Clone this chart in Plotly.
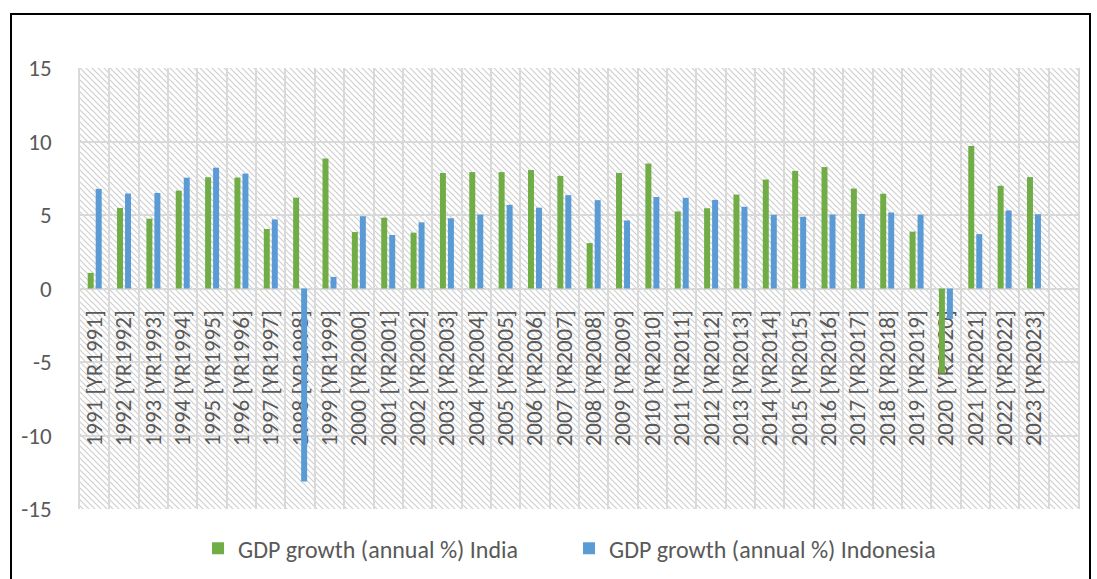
import base64
import plotly.graph_objects as go

# GDP growth (annual %), World Bank series codes shown as in the source sheet
years = list(range(1991, 2024))
categories = [f"{y} [YR{y}]" for y in years]

india = [1.06, 5.48, 4.75, 6.66, 7.57, 7.55, 4.05, 6.18, 8.85, 3.84,
         4.82, 3.80, 7.86, 7.92, 7.92, 8.06, 7.66, 3.09, 7.86, 8.50,
         5.24, 5.46, 6.39, 7.41, 8.00, 8.26, 6.80, 6.45, 3.87, -5.78,
         9.69, 6.99, 7.58]
indonesia = [6.78, 6.46, 6.50, 7.54, 8.22, 7.82, 4.70, -13.13, 0.79, 4.92,
             3.64, 4.50, 4.78, 5.03, 5.69, 5.50, 6.35, 6.01, 4.63, 6.22,
             6.17, 6.03, 5.56, 5.01, 4.88, 5.03, 5.07, 5.17, 5.02, -2.07,
             3.70, 5.31, 5.05]
series_names = ["GDP growth (annual %) India", "GDP growth (annual %) Indonesia"]

y_ticks = [-15, -10, -5, 0, 5, 10, 15]
y_tick_text = [str(v) for v in y_ticks]

GREEN = "#70AD47"
BLUE = "#5B9BD5"
TEXT = "#595959"
GRID = "#D9D9D9"
FONT = "Carlito, Calibri, Lato, sans-serif"

W, H = 1097, 579
M_L, M_R, M_T, M_B = 80, 19, 68, 70
PW, PH = W - M_L - M_R, H - M_T - M_B

# diagonal hatch backdrop for the plot area
s = 6
svg = (
    f'<svg xmlns="http://www.w3.org/2000/svg" width="{PW}" height="{PH}" '
    f'viewBox="0 0 {PW} {PH}" preserveAspectRatio="none">'
    f'<defs><pattern id="h" width="{s}" height="{s}" patternUnits="userSpaceOnUse">'
    f'<path d="M-1,-1 L{s+1},{s+1} M-1,{s-1} L1,{s+1} M{s-1},-1 L{s+1},1" '
    f'stroke="#cfcfcf" stroke-width="1.2"/></pattern></defs>'
    f'<rect width="{PW}" height="{PH}" fill="white"/>'
    f'<rect width="{PW}" height="{PH}" fill="url(#h)"/></svg>'
)
hatch_src = "data:image/svg+xml;base64," + base64.b64encode(svg.encode()).decode()

fig = go.Figure()
for vals, name, color in [(india, series_names[0], GREEN),
                          (indonesia, series_names[1], BLUE)]:
    fig.add_trace(go.Bar(x=categories, y=vals, name=name, showlegend=False,
                         marker=dict(color=color, line=dict(width=0))))
    # square swatch for the legend entry
    fig.add_trace(go.Scatter(x=[None], y=[None], mode="markers", name=name,
                             marker=dict(symbol="square", size=10, color=color,
                                         line=dict(width=0))))

fig.update_layout(
    width=W, height=H,
    margin=dict(l=M_L, r=M_R, t=M_T, b=M_B, autoexpand=False),
    paper_bgcolor="white",
    plot_bgcolor="rgba(0,0,0,0)",
    barmode="group",
    bargap=0.455,
    bargroupgap=0.25,
    font=dict(family=FONT, color=TEXT, size=23),
    images=[dict(source=hatch_src, xref="paper", yref="paper", x=0, y=1,
                 sizex=1, sizey=1, xanchor="left", yanchor="top",
                 sizing="stretch", layer="below")],
    legend=dict(orientation="h", x=0.49, xanchor="center", y=-0.09,
                yanchor="middle", font=dict(size=24, color=TEXT),
                itemsizing="constant", tracegroupgap=0,
                bgcolor="rgba(0,0,0,0)",
                entrywidthmode="pixels", entrywidth=326),
    shapes=[dict(type="rect", xref="paper", yref="paper",
                 xsizemode="pixel", xanchor=0, x0=-69, x1=1010,
                 ysizemode="pixel", yanchor=1, y0=54, y1=-600,
                 line=dict(color="black", width=2), fillcolor="rgba(0,0,0,0)")],
)

fig.update_xaxes(
    type="category",
    range=[-0.5, len(categories) + 0.5],
    tickson="boundaries",
    showgrid=True, gridcolor=GRID, gridwidth=1.5,
    anchor="free", position=0.5,
    tickangle=-90,
    ticks="", ticklabelstandoff=16,
    tickfont=dict(size=23, color=TEXT),
    showline=False, zeroline=False,
    layer="below traces",
    fixedrange=True,
    automargin=False,
)
fig.update_yaxes(
    range=[-15, 15],
    tickvals=y_ticks, ticktext=y_tick_text,
    showgrid=True, gridcolor=GRID, gridwidth=1.5,
    zeroline=False,
    showline=True, mirror=True, linecolor=GRID, linewidth=1.5,
    ticks="", ticklabelstandoff=22,
    tickfont=dict(size=23, color=TEXT),
    layer="below traces",
    fixedrange=True,
    automargin=False,
)

fig.write_html("out.html")
